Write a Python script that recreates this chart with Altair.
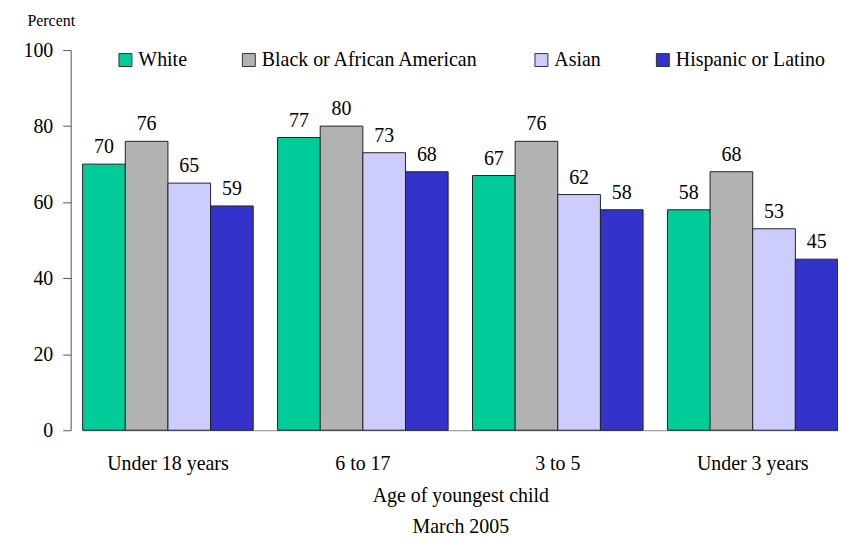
import altair as alt
import pandas as pd

ages = ["Under 18 years", "6 to 17", "3 to 5", "Under 3 years"]
races = ["White", "Black or African American", "Asian", "Hispanic or Latino"]
white = [70, 77, 67, 58]
black = [76, 80, 76, 68]
asian = [65, 73, 62, 53]
hispanic = [59, 68, 58, 45]
colors = ["#00CC99", "#B2B2B2", "#CCCCFF", "#3333CC"]

rows = []
for i, a in enumerate(ages):
    for r, vals in zip(races, [white, black, asian, hispanic]):
        rows.append({"age": a, "race": r, "value": vals[i]})
df = pd.DataFrame(rows)

FONT = "Liberation Serif"
FS = 20

x = alt.X("age:N", sort=ages,
          scale=alt.Scale(range=[12, 771], paddingInner=0.125, paddingOuter=0),
          axis=alt.Axis(title=["Age of youngest child", "March 2005"], labelAngle=0,
                        ticks=False, domainColor="#888888", labelPadding=23,
                        titlePadding=13, titleLineHeight=31))
xo = alt.XOffset("race:N", sort=races, scale=alt.Scale(paddingInner=0, paddingOuter=0))
y = alt.Y("value:Q", scale=alt.Scale(domain=[0, 100]),
          axis=alt.Axis(title="Percent", values=[0, 20, 40, 60, 80, 100], grid=False,
                        tickSize=8, tickColor="#555555", domainColor="#555555",
                        labelPadding=10, titleAngle=0, titleAlign="left",
                        titleBaseline="alphabetic", titleX=-44, titleY=-25,
                        titleFontSize=16))
color = alt.Color("race:N", sort=races,
                  scale=alt.Scale(domain=races, range=colors),
                  legend=alt.Legend(title=None, orient="none", legendX=45, legendY=0,
                                    direction="horizontal", columns=4,
                                    symbolType="square", symbolSize=169,
                                    symbolStrokeColor="#333333", symbolStrokeWidth=1,
                                    symbolOpacity=1, labelFontSize=FS, labelFont=FONT,
                                    labelLimit=1000,
                                    labelOffset=3, columnPadding=52, labelColor="black"))

bars = alt.Chart(df).mark_bar(stroke="#222222", strokeWidth=1, opacity=1).encode(
    x=x, xOffset=xo, y=y, color=color)
labels = alt.Chart(df).mark_text(baseline="alphabetic", dy=-11, fontSize=FS,
                                 font=FONT, color="black").encode(
    x=alt.X("age:N", sort=ages), xOffset=alt.XOffset("race:N", sort=races),
    y="value:Q", text="value:Q")

chart = alt.layer(bars, labels).properties(
    width=771, height=382,
    autosize=alt.AutoSizeParams(type="none"),
    padding={"left": 63, "top": 41, "right": 0, "bottom": 110},
).configure_view(stroke=None).configure_axis(
    labelFont=FONT, titleFont=FONT, labelFontSize=FS, titleFontSize=FS,
    labelColor="black", titleColor="black", titleFontWeight="normal"
).configure_legend(padding=0)

chart.save("out.html", embed_options={"renderer": "svg", "actions": False})
